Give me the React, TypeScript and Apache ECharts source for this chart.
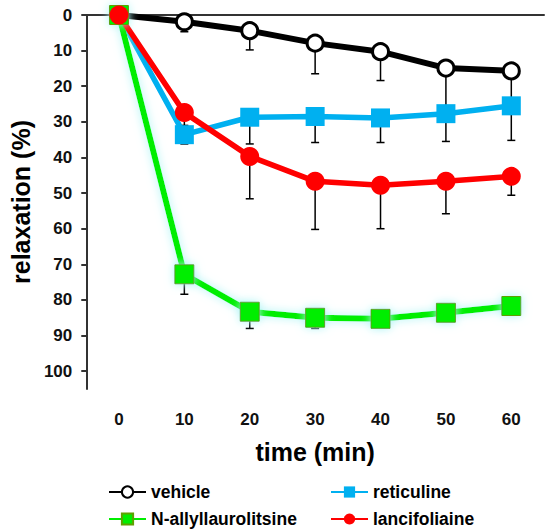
import React, { useEffect, useRef } from 'react';
import * as echarts from 'echarts';

const times = ['0', '10', '20', '30', '40', '50', '60'];
const yTicks = [0, 10, 20, 30, 40, 50, 60, 70, 80, 90, 100];

const vehicle = [0, 1.9, 4.4, 7.9, 10.3, 14.9, 15.7];
const vehicleErr = [null, 4.7, 9.8, 16.5, 18.4, 27, 26];

const reticuline = [0, 33.6, 28.7, 28.5, 28.9, 27.7, 25.5];
const reticulineErr = [null, 36.2, 36.2, 35.8, 35.8, 35.5, 35.2];

const allyl = [0, 72.8, 83.3, 85, 85.3, 83.6, 81.7];
const allylErr = [null, 78.4, 88, 88, null, null, null];

const lanci = [0, 27.4, 39.7, 46.7, 47.8, 46.7, 45.3];
const lanciErr = [null, 31, 51.6, 60.2, 60, 55.8, 50.6];

const FONT = '"Liberation Sans", Arial, sans-serif';

// one-sided error bars (downwards on the inverted axis) with a small cap
const errorSeries = (name: string, values: number[], ends: (number | null)[]) => ({
  name: name + '-err',
  type: 'custom' as const,
  z: 1,
  silent: true,
  data: values
    .map((v, i) => [i, v, ends[i]])
    .filter((d) => d[2] !== null),
  renderItem: (_params: unknown, api: any) => {
    const p1 = api.coord([api.value(0), api.value(1)]);
    const p2 = api.coord([api.value(0), api.value(2)]);
    const style = { stroke: '#000', lineWidth: 1.5 };
    return {
      type: 'group',
      children: [
        { type: 'line', shape: { x1: p1[0], y1: p1[1], x2: p2[0], y2: p2[1] }, style },
        { type: 'line', shape: { x1: p2[0] - 4, y1: p2[1], x2: p2[0] + 4, y2: p2[1] }, style },
      ],
    };
  },
});

const legendBase = {
  orient: 'horizontal' as const,
  padding: 0,
  itemWidth: 37,
  itemHeight: 14,
  textStyle: { fontSize: 17.5, fontWeight: 'bold' as const, color: '#000', fontFamily: FONT },
};

export default function App() {
  const ref = useRef<HTMLDivElement>(null);

  useEffect(() => {
    document.body.style.margin = '0';
    if (!ref.current) return;
    const chart = echarts.init(ref.current, null, { renderer: 'svg' });
    chart.setOption({
      animation: false,
      backgroundColor: '#fff',
      grid: { left: 78, right: 6, top: 15, bottom: 143 },
      legend: [
        { ...legendBase, data: ['vehicle'], left: 108, top: 483 },
        { ...legendBase, data: ['reticuline'], left: 330, top: 483 },
        { ...legendBase, data: ['N-allyllaurolitsine'], left: 108, top: 510 },
        { ...legendBase, data: ['lancifoliaine'], left: 330, top: 510 },
      ],
      xAxis: {
        type: 'category',
        data: times,
        boundaryGap: true,
        name: 'time (min)',
        nameLocation: 'middle',
        nameGap: 50,
        nameTextStyle: { fontSize: 25, fontWeight: 'bold', color: '#000', fontFamily: FONT },
        axisLine: { lineStyle: { color: '#333', width: 2 } },
        axisTick: { show: false },
        axisLabel: { margin: 22, fontSize: 17, fontWeight: 'bold', color: '#111', fontFamily: FONT },
      },
      yAxis: {
        type: 'value',
        inverse: true,
        min: 0,
        max: 105,
        interval: 10,
        name: 'relaxation (%)',
        nameLocation: 'middle',
        nameGap: 44,
        nameTextStyle: { fontSize: 25, fontWeight: 'bold', color: '#000', fontFamily: FONT },
        splitLine: { show: false },
        axisLine: { show: true, lineStyle: { color: '#333', width: 2 } },
        axisTick: { show: true, length: 5, lineStyle: { color: '#333', width: 2 }, customValues: yTicks },
        axisLabel: { margin: 14, fontSize: 17, fontWeight: 'bold', color: '#111', fontFamily: FONT, customValues: yTicks },
      },
      series: [
        errorSeries('vehicle', vehicle, vehicleErr),
        errorSeries('reticuline', reticuline, reticulineErr),
        errorSeries('allyl', allyl, allylErr),
        errorSeries('lanci', lanci, lanciErr),
        {
          name: 'vehicle',
          type: 'line',
          data: vehicle,
          symbol: 'circle',
          symbolSize: 16,
          lineStyle: { color: '#000', width: 6 },
          itemStyle: { color: '#fff', borderColor: '#000', borderWidth: 3 },
        },
        {
          name: 'reticuline',
          type: 'line',
          data: reticuline,
          symbol: 'rect',
          symbolSize: 19,
          lineStyle: { color: '#00b0f0', width: 5.5 },
          itemStyle: { color: '#00b0f0' },
        },
        {
          name: 'N-allyllaurolitsine',
          type: 'line',
          data: allyl,
          symbol: 'rect',
          symbolSize: 19,
          lineStyle: { color: '#00ee00', width: 6, shadowColor: '#aef5f5', shadowBlur: 10 },
          itemStyle: { color: '#00ee00', borderColor: '#5fa000', borderWidth: 1, shadowColor: '#aef5f5', shadowBlur: 10 },
        },
        {
          name: 'lancifoliaine',
          type: 'line',
          data: lanci,
          symbol: 'circle',
          symbolSize: 19,
          lineStyle: { color: '#ff0000', width: 5.5 },
          itemStyle: { color: '#ff0000' },
        },
      ],
    });
    return () => chart.dispose();
  }, []);

  return <div ref={ref} style={{ width: 550, height: 532 }} />;
}
